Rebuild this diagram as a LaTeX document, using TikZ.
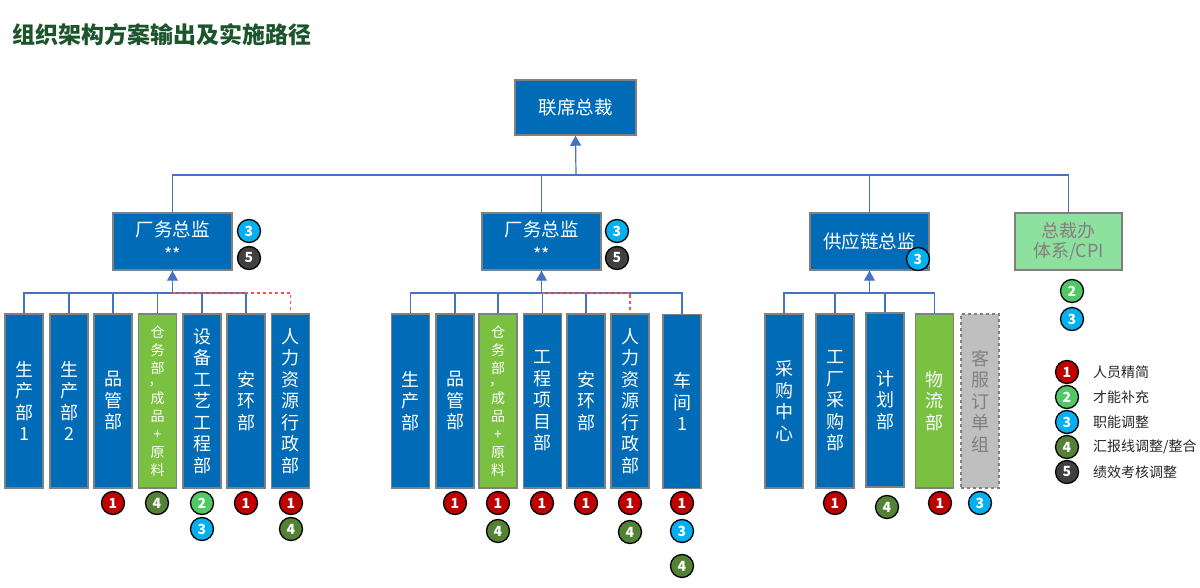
\documentclass[tikz,border=0pt]{standalone}
\usepackage{fontspec}
\setmainfont{Noto Sans CJK SC}
\usetikzlibrary{arrows.meta}
\definecolor{boxblue}{RGB}{0,107,182}
\definecolor{boxgreen}{RGB}{122,193,66}
\definecolor{lightgreen}{RGB}{142,224,158}
\definecolor{boxgray}{RGB}{191,191,191}
\definecolor{bordergray}{RGB}{128,128,128}
\definecolor{linkblue}{RGB}{68,114,196}
\definecolor{titlegreen}{RGB}{28,84,44}
\definecolor{bred}{RGB}{192,0,0}
\definecolor{bgreen}{RGB}{80,200,100}
\definecolor{bcyan}{RGB}{0,176,240}
\definecolor{bolive}{RGB}{84,130,53}
\definecolor{bdark}{RGB}{64,64,64}
\definecolor{dashred}{RGB}{255,80,80}
\tikzset{
  boxbase/.style={draw=bordergray, line width=1.5pt, inner sep=0pt, align=center, text=white},
  headbox/.style={boxbase, fill=boxblue, minimum width=119pt, minimum height=57pt, font=\fontsize{18.5}{20}\selectfont},
  childbox/.style={boxbase, fill=boxblue, minimum width=38pt, minimum height=174pt, font=\fontsize{18}{21.5}\selectfont},
  greenbox/.style={boxbase, fill=boxgreen, minimum width=38pt, minimum height=174pt, font=\fontsize{14}{18}\selectfont},
  conn/.style={draw=linkblue, line width=1.2pt},
  arr/.style={conn, -{Triangle[width=11pt,length=10pt]}, color=linkblue},
  rdash/.style={draw=dashred, line width=1.2pt, dash pattern=on 3pt off 3pt},
  badge/.style={circle, draw=black, line width=1.3pt, minimum size=23pt, inner sep=0pt, text=white, font=\fontsize{14}{14}\selectfont\bfseries},
  b1/.style={badge, fill=bred},
  b2/.style={badge, fill=bgreen},
  b3/.style={badge, fill=bcyan},
  b4/.style={badge, fill=bolive},
  b5/.style={badge, fill=bdark},
  legtext/.style={anchor=west, inner sep=0pt, font=\fontsize{14}{14}\selectfont, text=black!85}
}
\begin{document}
\begin{tikzpicture}[x=1pt,y=-1pt]
\useasboundingbox (0,0) rectangle (1200,588);
\node[anchor=west, inner sep=0pt, text=titlegreen, font=\fontsize{23}{23}\selectfont\bfseries] (title) at (12,35) {组织架构方案输出及实施路径};

% top
\node[headbox, minimum width=121pt, minimum height=55pt] (ceo) at (575.5,107.5) {联席总裁};

% level 2
\node[headbox] (g1) at (172.5,241.5) {厂务总监\\[5pt]{\fontsize{18}{18}\selectfont **}};
\node[headbox] (g2) at (541.5,241.5) {厂务总监\\[5pt]{\fontsize{18}{18}\selectfont **}};
\node[headbox] (g3) at (869.5,241.5) {供应链总监};
\node[boxbase, fill=lightgreen, text=bordergray, minimum width=107pt, minimum height=57pt, font=\fontsize{18}{20}\selectfont] (g4) at (1068.5,241.5) {总裁办\\体系/CPI};

% top bus
\coordinate (topbus) at (576,175);
\draw[conn] (g1.north) |- (topbus) -| (g4.north);
\draw[conn] (g2.north) -- (g2.north |- topbus);
\draw[conn] (g3.north) -- (g3.north |- topbus);
\draw[arr] (topbus) -- (ceo.south);

% group 1 children
\node[childbox] (a1) at (24,401) {生\\产\\部\\1};
\node[childbox] (a2) at (69,401) {生\\产\\部\\2};
\node[childbox] (a3) at (113,401) {品\\管\\部};
\node[greenbox] (a4) at (157.5,401) {仓\\务\\部\\[-6pt]\hspace*{-4pt}，\\成\\品\\+\\原\\料};
\node[childbox] (a5) at (202,401) {设\\备\\工\\艺\\工\\程\\部};
\node[childbox] (a6) at (246,401) {安\\环\\部};
\node[childbox] (a7) at (290.5,401) {人\\力\\资\\源\\行\\政\\部};
\coordinate (bus1) at (172.5,293);
\draw[conn] (a1.north) |- (bus1) -| (a6.north);
\foreach \n in {a2,a3,a4,a5} \draw[conn] (\n.north) -- (\n.north |- bus1);
\draw[rdash] (bus1) -| (a7.north);
\draw[arr] (bus1) -- (g1.south);

% group 2 children
\node[childbox] (c1) at (410.5,401) {生\\产\\部};
\node[childbox] (c2) at (455,401) {品\\管\\部};
\node[greenbox] (c3) at (498,401) {仓\\务\\部\\[-6pt]\hspace*{-4pt}，\\成\\品\\+\\原\\料};
\node[childbox] (c4) at (542.5,401) {工\\程\\项\\目\\部};
\node[childbox] (c5) at (586,401) {安\\环\\部};
\node[childbox] (c6) at (630,401) {人\\力\\资\\源\\行\\政\\部};
\node[childbox] (c7) at (682,401.5) {车\\间\\1};
\coordinate (bus2) at (541.5,293);
\draw[conn] (c1.north) |- (bus2) -| (c7.north);
\foreach \n in {c2,c3,c5} \draw[conn] (\n.north) -- (\n.north |- bus2);
\draw[conn] (c4.north) -- (c4.north |- bus2);
\draw[rdash] (bus2) -| (c6.north);
\draw[arr] (bus2) -- (g2.south);

% group 3 children
\node[childbox] (s1) at (784,401) {采\\购\\中\\心};
\node[childbox] (s2) at (835,401) {工\\厂\\采\\购\\部};
\node[childbox] (s3) at (885,400) {计\\划\\部};
\node[greenbox, font=\fontsize{18}{21.5}\selectfont] (s4) at (934.5,401) {物\\流\\部};
\node[boxbase, fill=boxgray, draw=bordergray, dashed, text=bordergray, minimum width=38pt, minimum height=174pt, font=\fontsize{18}{21.5}\selectfont] (s5) at (980,401) {客\\服\\订\\单\\组};
\coordinate (bus3) at (869.5,293);
\draw[conn] (s1.north) |- (bus3) -| (s4.north);
\draw[conn] (s2.north) -- (s2.north |- bus3);
\draw[conn] (s3.north) -- (s3.north |- bus3);
\draw[arr] (bus3) -- (g3.south);

% badges level 2
\node[b3] (k1) at (249,231) {3};
\node[b5] (k2) at (249,258) {5};
\node[b3] (k3) at (617,231) {3};
\node[b5] (k4) at (617,258) {5};
\node[b3] (k5) at (918,259) {3};
\node[b2] (k6) at (1072,291) {2};
\node[b3] (k7) at (1072,319) {3};

% badges group 1
\node[b1] (m1) at (113,503) {1};
\node[b4] (m2) at (157,503) {4};
\node[b2] (m3) at (202,503) {2};
\node[b3] (m4) at (202,529) {3};
\node[b1] (m5) at (246,503) {1};
\node[b1] (m6) at (291,503) {1};
\node[b4] (m7) at (291,529) {4};

% badges group 2
\node[b1] (n1) at (455,503) {1};
\node[b1] (n2) at (498,503) {1};
\node[b4] (n3) at (498,531) {4};
\node[b1] (n4) at (542,503) {1};
\node[b1] (n5) at (586,503) {1};
\node[b1] (n6) at (630,503) {1};
\node[b4] (n7) at (630,532) {4};
\node[b1] (n8) at (682,503) {1};
\node[b3] (n9) at (682,531) {3};
\node[b4] (n10) at (682,566) {4};

% badges group 3
\node[b1] (p1) at (835,503) {1};
\node[b4] (p2) at (887,507) {4};
\node[b1] (p3) at (940,503) {1};
\node[b3] (p4) at (980,503) {3};

% legend
\node[b1] (l1) at (1067,372) {1};
\node[b2] (l2) at (1067,397) {2};
\node[b3] (l3) at (1067,422) {3};
\node[b4] (l4) at (1067,447) {4};
\node[b5] (l5) at (1067,472) {5};
\node[legtext] (t1) at (1093,372) {人员精简};
\node[legtext] (t2) at (1093,397) {才能补充};
\node[legtext] (t3) at (1093,422) {职能调整};
\node[legtext] (t4) at (1093,447) {汇报线调整/整合};
\node[legtext] (t5) at (1093,472) {绩效考核调整};
\end{tikzpicture}
\end{document}
